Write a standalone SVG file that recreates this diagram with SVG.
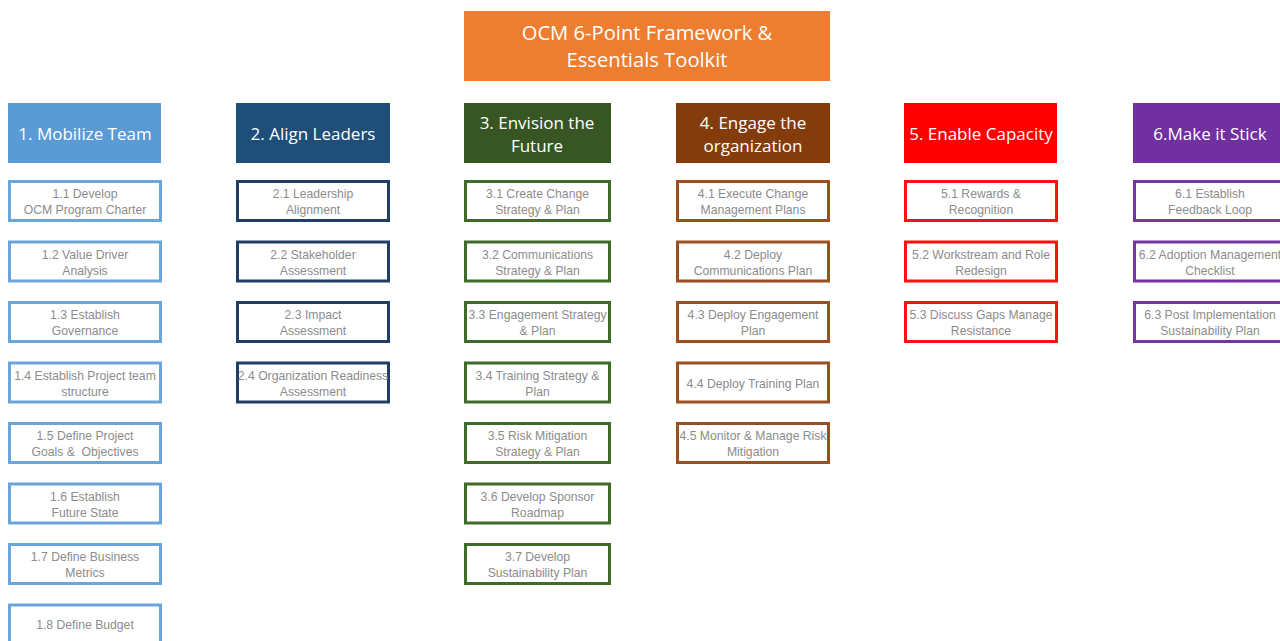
<svg xmlns="http://www.w3.org/2000/svg" width="1280" height="641" viewBox="0 0 1280 641">
<style>
.t{font-family:"Liberation Sans",Arial,sans-serif;font-size:12.2px;fill:#8C8C8C;text-anchor:middle}
.h{font-family:"Open Sans","Liberation Sans",sans-serif;font-size:17px;fill:#FFFFFF;text-anchor:middle}
.ti{font-family:"Open Sans","Liberation Sans",sans-serif;font-size:20.2px;fill:#FFFFFF;text-anchor:middle}
.b{fill:#FFFFFF;stroke-width:3}
.c1{stroke:#6AA5DB}.c2{stroke:#203D66}.c3{stroke:#3E6A2A}.c4{stroke:#9A4E22}.c5{stroke:#FF1010}.c6{stroke:#7434A4}
</style>
<rect width="1280" height="641" fill="#FFFFFF"/>
<g id="title">
<rect x="464" y="11" width="366" height="70" fill="#ED7D31"/>
<text class="ti" x="647" y="40">OCM 6-Point Framework &amp;</text>
<text class="ti" x="647" y="67">Essentials Toolkit</text>
</g>
<g id="headers">
<g id="h1"><rect x="8" y="103" width="153" height="60" fill="#5B9BD5"/><text class="h" x="85" y="140">1. Mobilize Team</text></g>
<g id="h2"><rect x="236" y="103" width="154" height="60" fill="#1F4E79"/><text class="h" x="313" y="140">2. Align Leaders</text></g>
<g id="h3"><rect x="464" y="103" width="147" height="60" fill="#375623"/><text class="h" x="537" y="129">3. Envision the</text><text class="h" x="537" y="152">Future</text></g>
<g id="h4"><rect x="676" y="103" width="154" height="60" fill="#843C0C"/><text class="h" x="753" y="129">4. Engage the</text><text class="h" x="753" y="152">organization</text></g>
<g id="h5"><rect x="904" y="103" width="153" height="60" fill="#FF0000"/><text class="h" x="981" y="140">5. Enable Capacity</text></g>
<g id="h6"><rect x="1133" y="103" width="154" height="60" fill="#7030A0"/><text class="h" x="1210" y="140">6.Make it Stick</text></g>
</g>
<g id="col1">
<g id="n1-1"><rect class="b c1" x="9.5" y="181.5" width="151" height="39"/><text class="t" x="85" y="198">1.1 Develop</text><text class="t" x="85" y="214">OCM Program Charter</text></g>
<g id="n1-2"><rect class="b c1" x="9.5" y="242" width="151" height="39"/><text class="t" x="85" y="258.5">1.2 Value Driver</text><text class="t" x="85" y="274.5">Analysis</text></g>
<g id="n1-3"><rect class="b c1" x="9.5" y="302.5" width="151" height="39"/><text class="t" x="85" y="319">1.3 Establish</text><text class="t" x="85" y="335">Governance</text></g>
<g id="n1-4"><rect class="b c1" x="9.5" y="363" width="151" height="39"/><text class="t" x="85" y="379.5">1.4 Establish Project team</text><text class="t" x="85" y="395.5">structure</text></g>
<g id="n1-5"><rect class="b c1" x="9.5" y="423.5" width="151" height="39"/><text class="t" x="85" y="440">1.5 Define Project</text><text class="t" x="85" y="456" xml:space="preserve">Goals &amp;  Objectives</text></g>
<g id="n1-6"><rect class="b c1" x="9.5" y="484" width="151" height="39"/><text class="t" x="85" y="500.5">1.6 Establish</text><text class="t" x="85" y="516.5">Future State</text></g>
<g id="n1-7"><rect class="b c1" x="9.5" y="544.5" width="151" height="39"/><text class="t" x="85" y="561">1.7 Define Business</text><text class="t" x="85" y="577">Metrics</text></g>
<g id="n1-8"><rect class="b c1" x="9.5" y="605" width="151" height="39"/><text class="t" x="85" y="629">1.8 Define Budget</text></g>
</g>
<g id="col2">
<g id="n2-1"><rect class="b c2" x="237.5" y="181.5" width="151" height="39"/><text class="t" x="313" y="198">2.1 Leadership</text><text class="t" x="313" y="214">Alignment</text></g>
<g id="n2-2"><rect class="b c2" x="237.5" y="242" width="151" height="39"/><text class="t" x="313" y="258.5">2.2 Stakeholder</text><text class="t" x="313" y="274.5">Assessment</text></g>
<g id="n2-3"><rect class="b c2" x="237.5" y="302.5" width="151" height="39"/><text class="t" x="313" y="319">2.3 Impact</text><text class="t" x="313" y="335">Assessment</text></g>
<g id="n2-4"><rect class="b c2" x="237.5" y="363" width="151" height="39"/><text class="t" x="313" y="379.5">2.4 Organization Readiness</text><text class="t" x="313" y="395.5">Assessment</text></g>
</g>
<g id="col3">
<g id="n3-1"><rect class="b c3" x="465.5" y="181.5" width="144" height="39"/><text class="t" x="537.5" y="198">3.1 Create Change</text><text class="t" x="537.5" y="214">Strategy &amp; Plan</text></g>
<g id="n3-2"><rect class="b c3" x="465.5" y="242" width="144" height="39"/><text class="t" x="537.5" y="258.5">3.2 Communications</text><text class="t" x="537.5" y="274.5">Strategy &amp; Plan</text></g>
<g id="n3-3"><rect class="b c3" x="465.5" y="302.5" width="144" height="39"/><text class="t" x="537.5" y="319">3.3 Engagement Strategy</text><text class="t" x="537.5" y="335">&amp; Plan</text></g>
<g id="n3-4"><rect class="b c3" x="465.5" y="363" width="144" height="39"/><text class="t" x="537.5" y="379.5">3.4 Training Strategy &amp;</text><text class="t" x="537.5" y="395.5">Plan</text></g>
<g id="n3-5"><rect class="b c3" x="465.5" y="423.5" width="144" height="39"/><text class="t" x="537.5" y="440">3.5 Risk Mitigation</text><text class="t" x="537.5" y="456">Strategy &amp; Plan</text></g>
<g id="n3-6"><rect class="b c3" x="465.5" y="484" width="144" height="39"/><text class="t" x="537.5" y="500.5">3.6 Develop Sponsor</text><text class="t" x="537.5" y="516.5">Roadmap</text></g>
<g id="n3-7"><rect class="b c3" x="465.5" y="544.5" width="144" height="39"/><text class="t" x="537.5" y="561">3.7 Develop</text><text class="t" x="537.5" y="577">Sustainability Plan</text></g>
</g>
<g id="col4">
<g id="n4-1"><rect class="b c4" x="677.5" y="181.5" width="151" height="39"/><text class="t" x="753" y="198">4.1 Execute Change</text><text class="t" x="753" y="214">Management Plans</text></g>
<g id="n4-2"><rect class="b c4" x="677.5" y="242" width="151" height="39"/><text class="t" x="753" y="258.5">4.2 Deploy</text><text class="t" x="753" y="274.5">Communications Plan</text></g>
<g id="n4-3"><rect class="b c4" x="677.5" y="302.5" width="151" height="39"/><text class="t" x="753" y="319">4.3 Deploy Engagement</text><text class="t" x="753" y="335">Plan</text></g>
<g id="n4-4"><rect class="b c4" x="677.5" y="363" width="151" height="39"/><text class="t" x="753" y="387.5">4.4 Deploy Training Plan</text></g>
<g id="n4-5"><rect class="b c4" x="677.5" y="423.5" width="151" height="39"/><text class="t" x="753" y="440">4.5 Monitor &amp; Manage Risk</text><text class="t" x="753" y="456">Mitigation</text></g>
</g>
<g id="col5">
<g id="n5-1"><rect class="b c5" x="905.5" y="181.5" width="151" height="39"/><text class="t" x="981" y="198">5.1 Rewards &amp;</text><text class="t" x="981" y="214">Recognition</text></g>
<g id="n5-2"><rect class="b c5" x="905.5" y="242" width="151" height="39"/><text class="t" x="981" y="258.5">5.2 Workstream and Role</text><text class="t" x="981" y="274.5">Redesign</text></g>
<g id="n5-3"><rect class="b c5" x="905.5" y="302.5" width="151" height="39"/><text class="t" x="981" y="319">5.3 Discuss Gaps Manage</text><text class="t" x="981" y="335">Resistance</text></g>
</g>
<g id="col6">
<g id="n6-1"><rect class="b c6" x="1134.5" y="181.5" width="151" height="39"/><text class="t" x="1210" y="198">6.1 Establish</text><text class="t" x="1210" y="214">Feedback Loop</text></g>
<g id="n6-2"><rect class="b c6" x="1134.5" y="242" width="151" height="39"/><text class="t" x="1210" y="258.5">6.2 Adoption Management</text><text class="t" x="1210" y="274.5">Checklist</text></g>
<g id="n6-3"><rect class="b c6" x="1134.5" y="302.5" width="151" height="39"/><text class="t" x="1210" y="319">6.3 Post Implementation</text><text class="t" x="1210" y="335">Sustainability Plan</text></g>
</g>
<g id="connectors"></g>
</svg>
